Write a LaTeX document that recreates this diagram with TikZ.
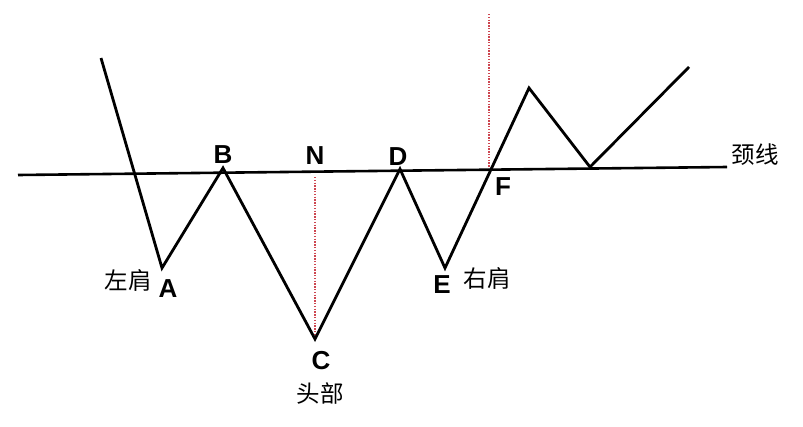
\documentclass[tikz,border=0pt]{standalone}
\usepackage{fontspec}
\setmainfont{Liberation Sans}
\newfontfamily\cjk{Noto Sans CJK SC}
\begin{document}
\begin{tikzpicture}[x=1pt,y=-1pt,
  price/.style={line width=2.8pt,line join=miter,line cap=butt},
  neck/.style={line width=2.6pt},
  guide/.style={line width=2pt,dash pattern=on 1.4pt off 1.4pt,draw={rgb,255:red,205;green,70;blue,80}},
  lbl/.style={font=\fontsize{26}{26}\selectfont\bfseries,inner sep=0pt},
  cn/.style={font=\cjk\fontsize{23.5}{23.5}\selectfont,inner sep=0pt}]
\useasboundingbox (0,0) rectangle (803,426);
% key points
\coordinate (S) at (101,58);
\coordinate (pA) at (162,268);
\coordinate (pB) at (223,168);
\coordinate (pC) at (315,339);
\coordinate (pD) at (400,169);
\coordinate (pE) at (445,268);
\coordinate (pP) at (529,88);
\coordinate (pT) at (590,167);
\coordinate (pEnd) at (689,67);
\coordinate (NL) at (18,175);
\coordinate (NR) at (727,167);
\coordinate (NN) at (315,177);
\coordinate (FT) at (489,14);
\coordinate (FB) at (489,168);
% guides
\draw[guide] (NN) -- (pC);
\draw[guide] (FT) -- (FB);
% neckline
\draw[neck] (NL) -- (NR);
% price path
\draw[price] (S) -- (pA) -- (pB) -- (pC) -- (pD) -- (pE) -- (pP) -- (pT) -- (pEnd);
% labels
\node[lbl] (lA) at (168,289) {A};
\node[lbl] (lB) at (223,155) {B};
\node[lbl] (lN) at (315,156) {N};
\node[lbl] (lD) at (398,157) {D};
\node[lbl] (lE) at (442,285) {E};
\node[lbl] (lF) at (503,187) {F};
\node[lbl] (lC) at (321,361) {C};
\node[cn] (tA) at (128,280) {左肩};
\node[cn] (tE) at (487,278) {右肩};
\node[cn] (tC) at (320,393) {头部};
\node[cn] (tN) at (755,155) {颈线};
\end{tikzpicture}
\end{document}
